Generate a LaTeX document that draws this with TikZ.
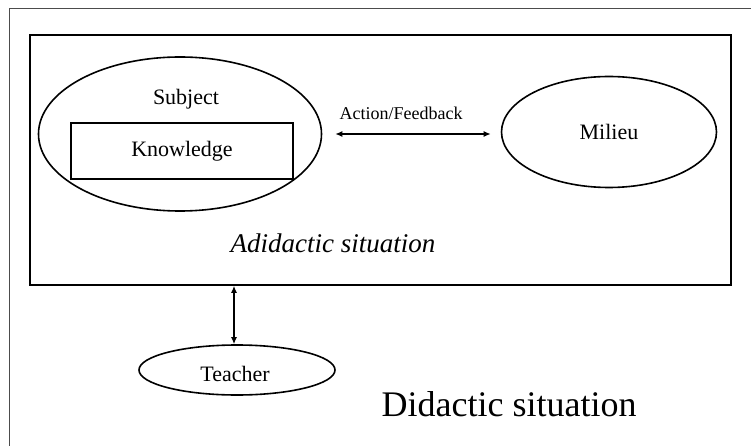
\documentclass[tikz,border=0pt]{standalone}
\usepackage{fontspec}
\setmainfont{Liberation Serif}
\usetikzlibrary{arrows.meta,shapes.geometric}

\begin{document}
\begin{tikzpicture}[
    x=1pt, y=-1pt,
    >={Latex[length=7pt,width=6pt]},
    line width=1.6pt,
    box node/.style={draw,rectangle,inner sep=0pt},
    blob node/.style={draw,ellipse,inner sep=0pt},
    text node/.style={inner sep=0pt,font=\fontsize{22}{26}\selectfont},
    link/.style={<->,line width=1.3pt}]

  \useasboundingbox (0,0) rectangle (751,446);
  \draw[line width=1pt,black!70] (751,9) -- (9,9) -- (9,446);

  \node[box node,minimum width=701pt,minimum height=250pt] (adidactic) at (380.5,160) {};
  \node[blob node,minimum width=283pt,minimum height=154pt] (subject) at (180,134) {};
  \node[text node] (subjecttxt) at (186,99) {Subject};
  \node[box node,text node,minimum width=222pt,minimum height=56pt] (knowledge) at (182,151) {Knowledge};
  \node[blob node,text node,minimum width=215pt,minimum height=111pt] (milieu) at (609,132) {Milieu};
  \node[blob node,minimum width=196pt,minimum height=50pt] (teacher) at (237,370) {};
  \node[text node] (teachertxt) at (235,374) {Teacher};
  \node[inner sep=0pt,font=\fontsize{18}{22}\selectfont] (feedback) at (401,113) {Action/Feedback};
  \node[inner sep=0pt,font=\fontsize{27}{32}\selectfont\itshape] (adtxt) at (333,243) {Adidactic situation};
  \node[inner sep=0pt,font=\fontsize{36}{42}\selectfont] (didactic) at (509,404) {Didactic situation};

  \draw[link,shorten <=13pt,shorten >=10pt] (subject.east) -- (milieu.west |- subject.east);
  \draw[link] ([xshift=-3pt]teacher.north) -- ([xshift=-3pt]teacher.north |- adidactic.south);
\end{tikzpicture}
\end{document}
